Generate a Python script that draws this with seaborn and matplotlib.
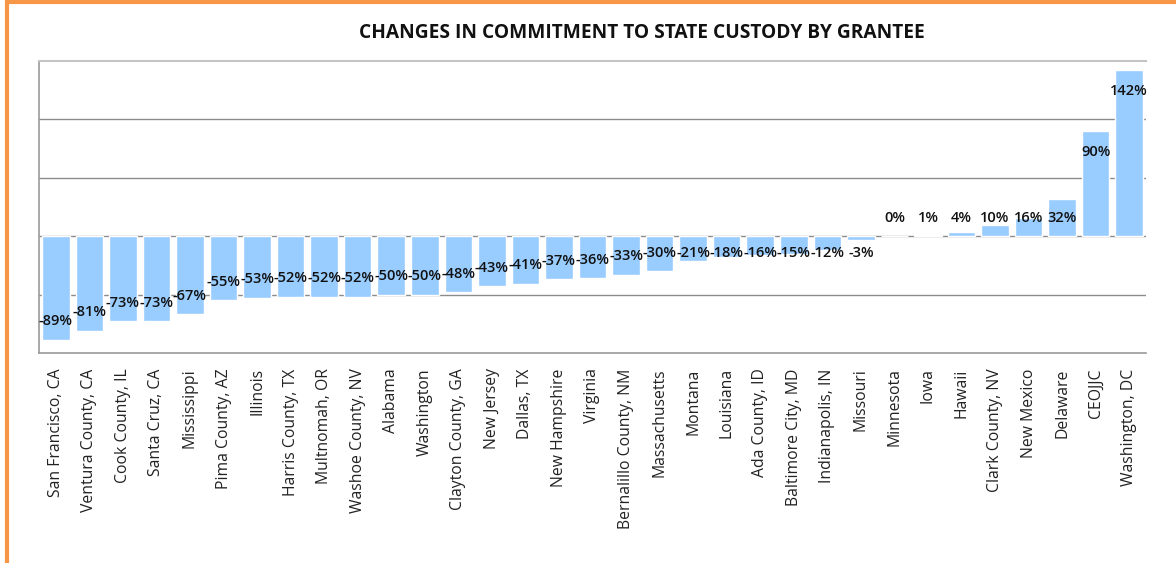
import pandas as pd
import seaborn as sns
import matplotlib
matplotlib.use('Agg')
from matplotlib import pyplot as plt
from matplotlib.patches import Rectangle

# 数据
grantees = ['San Francisco, CA', 'Ventura County, CA', 'Cook County, IL', 'Santa Cruz, CA',
            'Mississippi', 'Pima County, AZ', 'Illinois', 'Harris County, TX', 'Multnomah, OR',
            'Washoe County, NV', 'Alabama', 'Washington', 'Clayton County, GA', 'New Jersey',
            'Dallas, TX', 'New Hampshire', 'Virginia', 'Bernalillo County, NM', 'Massachusetts',
            'Montana', 'Louisiana', 'Ada County, ID', 'Baltimore City, MD', 'Indianapolis, IN',
            'Missouri', 'Minnesota', 'Iowa', 'Hawaii', 'Clark County, NV', 'New Mexico',
            'Delaware', 'CEOJJC', 'Washington, DC']
changes = [-89, -81, -73, -73, -67, -55, -53, -52, -52, -52, -50, -50, -48, -43, -41, -37,
           -36, -33, -30, -21, -18, -16, -15, -12, -3, 0, 1, 4, 10, 16, 32, 90, 142]

sns.set_style('white')
plt.rcParams['font.family'] = ['Open Sans', 'DejaVu Sans']

df = pd.DataFrame({'grantee': grantees, 'change': changes})

fig = plt.figure(figsize=(11.76, 5.63), dpi=100)
ax = fig.add_axes([39 / 1176, 1 - 353 / 563, (1146 - 39) / 1176, (353 - 61) / 563])

sns.barplot(data=df, x='grantee', y='change', color='#99ccff', saturation=1,
            width=0.82, ax=ax, zorder=2)

ax.set_ylim(-100, 150)
ax.set_xlim(-0.5, len(grantees) - 0.5)
ax.set_yticks([-50, 0, 50, 100])
ax.set_yticklabels([])
ax.tick_params(axis='y', length=0)
ax.yaxis.grid(True, color='#8c8c8c', linewidth=1)
ax.set_axisbelow(True)
ax.set_xlabel('')
ax.set_ylabel('')
ax.tick_params(axis='x', length=0, pad=11)
plt.setp(ax.get_xticklabels(), rotation=90, fontsize=11.3, color='#222222', va='top')

for s in ['left', 'bottom']:
    ax.spines[s].set_color('#9a9a9a')
    ax.spines[s].set_linewidth(1.2)
ax.spines['top'].set_color('#c4c4c4')
ax.spines['top'].set_linewidth(1.5)
ax.spines['right'].set_visible(False)

# 数据标签
for i, v in enumerate(changes):
    if v >= 0:
        y = max(v - 18, 16)
    else:
        y = min(v + 16, -14.5)
    ax.text(i, y, f'{v}%', ha='center', va='center', fontsize=10.5,
            fontweight='semibold', color='#111111', zorder=3)

fig.text(642 / 1176, 1 - 33 / 563, 'CHANGES IN COMMITMENT TO STATE CUSTODY BY GRANTEE',
         ha='center', va='center', fontsize=13.8, fontweight='bold', color='#111111')

# 橙色边框
fig.patches.append(Rectangle((6.5 / 1176, -0.1), 1.2, 1 - 2 / 563 + 0.1,
                             transform=fig.transFigure, fill=False,
                             edgecolor='#f79646', linewidth=3, zorder=0))

fig.savefig('out.png', dpi=100)
